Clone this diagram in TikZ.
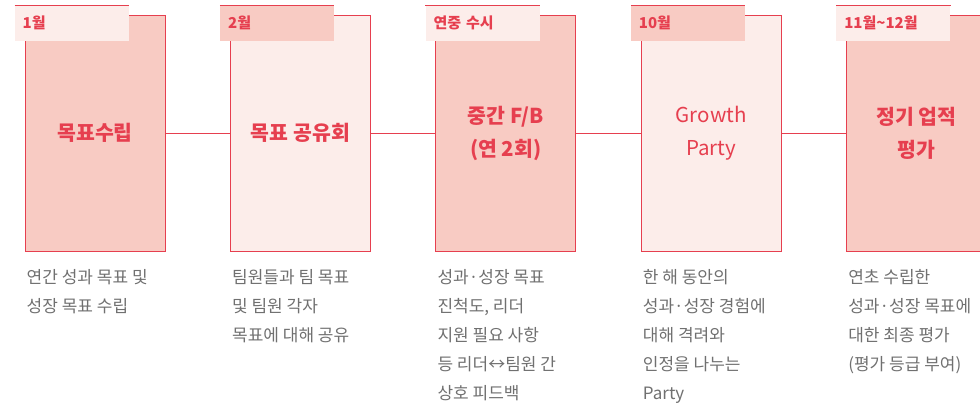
\documentclass[tikz,border=0pt]{standalone}
\usepackage{fontspec}
\setmainfont{Noto Sans CJK KR}
\usetikzlibrary{positioning}
\definecolor{lgred}{HTML}{E63F4F}
\definecolor{pinkdark}{HTML}{F8CBC3}
\definecolor{pinklight}{HTML}{FCEDEA}
\definecolor{descgray}{HTML}{707070}

\begin{document}
\begin{tikzpicture}[
    x=1pt, y=1pt,
    stage/.style={draw=lgred, line width=0.9pt, minimum width=140pt, minimum height=236pt, align=center, inner sep=0pt, text=lgred, font=\fontsize{20.5}{33}\selectfont\bfseries},
    tab/.style={anchor=north west, text width=98pt, inner xsep=8pt, inner ysep=0pt, minimum height=35pt, align=left, text=lgred, font=\fontsize{15}{18}\selectfont\bfseries},
    tabline/.style={draw=lgred, line width=1.2pt},
    link/.style={draw=lgred, line width=0.9pt},
    desc/.style={align=left, inner sep=2pt, text=descgray, font=\fontsize{17}{29}\selectfont},
    node distance=64.5pt
]
    \useasboundingbox (0,0) rectangle (980,-405);

    % Stages
    \node[stage, fill=pinkdark] (goal) at (95,-133) {목표수립};
    \node[stage, fill=pinklight, right=of goal] (share) {목표 공유회};
    \node[stage, fill=pinkdark, right=of share] (midfb) {중간 F/B\\(연 2회)};
    \node[stage, fill=pinklight, right=of midfb] (party) {\mdseries Growth\\\mdseries Party};
    \node[stage, fill=pinkdark, right=of party] (review) {정기 업적\\평가};

    % Month tabs
    \node[tab, fill=pinklight] (t_goal) at ([xshift=-10pt, yshift=9pt]goal.north west) {1월};
    \node[tab, fill=pinkdark] (t_share) at ([xshift=-10pt, yshift=9pt]share.north west) {2월};
    \node[tab, fill=pinklight] (t_midfb) at ([xshift=-10pt, yshift=9pt]midfb.north west) {연중 수시};
    \node[tab, fill=pinkdark] (t_party) at ([xshift=-10pt, yshift=9pt]party.north west) {10월};
    \node[tab, fill=pinklight] (t_review) at ([xshift=-10pt, yshift=9pt]review.north west) {11월\textasciitilde12월};

    \draw[tabline] (t_goal.north west) -- (t_goal.north east);
    \draw[tabline] (t_share.north west) -- (t_share.north east);
    \draw[tabline] (t_midfb.north west) -- (t_midfb.north east);
    \draw[tabline] (t_party.north west) -- (t_party.north east);
    \draw[tabline] (t_review.north west) -- (t_review.north east);

    % Timeline
    \draw[link] (goal) -- (share);
    \draw[link] (share) -- (midfb);
    \draw[link] (midfb) -- (party);
    \draw[link] (party) -- (review);

    % Descriptions
    \node[desc, below right=16pt and 0pt of goal.south west] (d_goal) {연간 성과 목표 및\\성장 목표 수립};
    \node[desc, below right=16pt and 0pt of share.south west] (d_share) {팀원들과 팀 목표\\및 팀원 각자\\목표에 대해 공유};
    \node[desc, below right=16pt and 0pt of midfb.south west] (d_midfb) {성과·성장 목표\\진척도, 리더\\지원 필요 사항\\등 리더↔팀원 간\\상호 피드백};
    \node[desc, below right=16pt and 0pt of party.south west] (d_party) {한 해 동안의\\성과·성장 경험에\\대해 격려와\\인정을 나누는\\Party};
    \node[desc, below right=16pt and 0pt of review.south west] (d_review) {연초 수립한\\성과·성장 목표에\\대한 최종 평가\\(평가 등급 부여)};
\end{tikzpicture}
\end{document}
